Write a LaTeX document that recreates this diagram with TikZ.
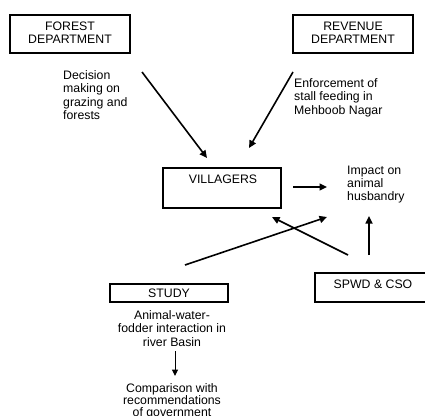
\documentclass[tikz,border=0pt]{standalone}
\usepackage{fontspec}
\setmainfont{Liberation Sans}
\usetikzlibrary{arrows.meta}
\tikzset{
  every node/.style={font=\fontsize{12.3}{13.3}\selectfont, inner sep=0pt},
  box/.style={draw, line width=1.6pt, rectangle},
  txt/.style={align=left, anchor=north west},
  ctxt/.style={align=center, anchor=north},
  flow/.style={line width=1.6pt, -{Triangle[length=7.5pt,width=7pt]}},
}
\begin{document}
\begin{tikzpicture}[x=1pt, y=-1pt]
\useasboundingbox (0,0) rectangle (425,415);
\clip (0,0) rectangle (425,415);

% boxes with their captions
\node[box, minimum width=120pt, minimum height=38pt] (forest) at (70,34) {};
\node[align=center] (forest-t) at (70,33) {FOREST\\DEPARTMENT};
\node[box, minimum width=120pt, minimum height=38pt] (revenue) at (353,34) {};
\node[align=center] (revenue-t) at (353,33) {REVENUE\\DEPARTMENT};
\node[box, minimum width=118pt, minimum height=40pt] (villagers) at (222,188) {};
\node (villagers-t) at (223,179) {VILLAGERS};
\node[box, minimum width=118pt, minimum height=18pt] (study) at (169,293) {};
\node (study-t) at (169,293) {STUDY};
\node[box, minimum width=120pt, minimum height=29pt] (spwd) at (375,287.5) {};
\node (spwd-t) at (373,284) {SPWD \& CSO};

% free text
\node[txt] (decision) at (63,70.5) {Decision\\making on\\grazing and\\forests};
\node[txt] (enforce) at (294,78.5) {Enforcement of\\stall feeding in\\Mehboob Nagar};
\node[txt] (impact) at (347,165.5) {Impact on\\animal\\husbandry};
\node[ctxt] (interact) at (172,310.5) {Animal-water-\\fodder interaction in\\river Basin};
\node[ctxt, font=\fontsize{12.3}{12.3}\selectfont] (compare) at (172,383) {Comparison with\\recommendations\\of government};

% arrow end points
\coordinate (a1s) at (142,72);  \coordinate (a1e) at (207,158);
\coordinate (a2s) at (293,72);  \coordinate (a2e) at (249,148);
\coordinate (a3s) at (293,187); \coordinate (a3e) at (327,187);
\coordinate (a4s) at (185,265); \coordinate (a4e) at (327,217);
\coordinate (a5s) at (348,255); \coordinate (a5e) at (272,217);
\coordinate (a6s) at (369,255); \coordinate (a6e) at (369,216);
\coordinate (a7s) at (175,351); \coordinate (a7e) at (175,376);

\draw[flow] (a1s) -- (a1e);
\draw[flow] (a2s) -- (a2e);
\draw[flow] (a3s) -- (a3e);
\draw[flow] (a4s) -- (a4e);
\draw[flow] (a5s) -- (a5e);
\draw[flow] (a6s) -- (a6e);
\draw[line width=1pt, -{Triangle[length=6.5pt,width=6pt]}] (a7s) -- (a7e);
\end{tikzpicture}
\end{document}
